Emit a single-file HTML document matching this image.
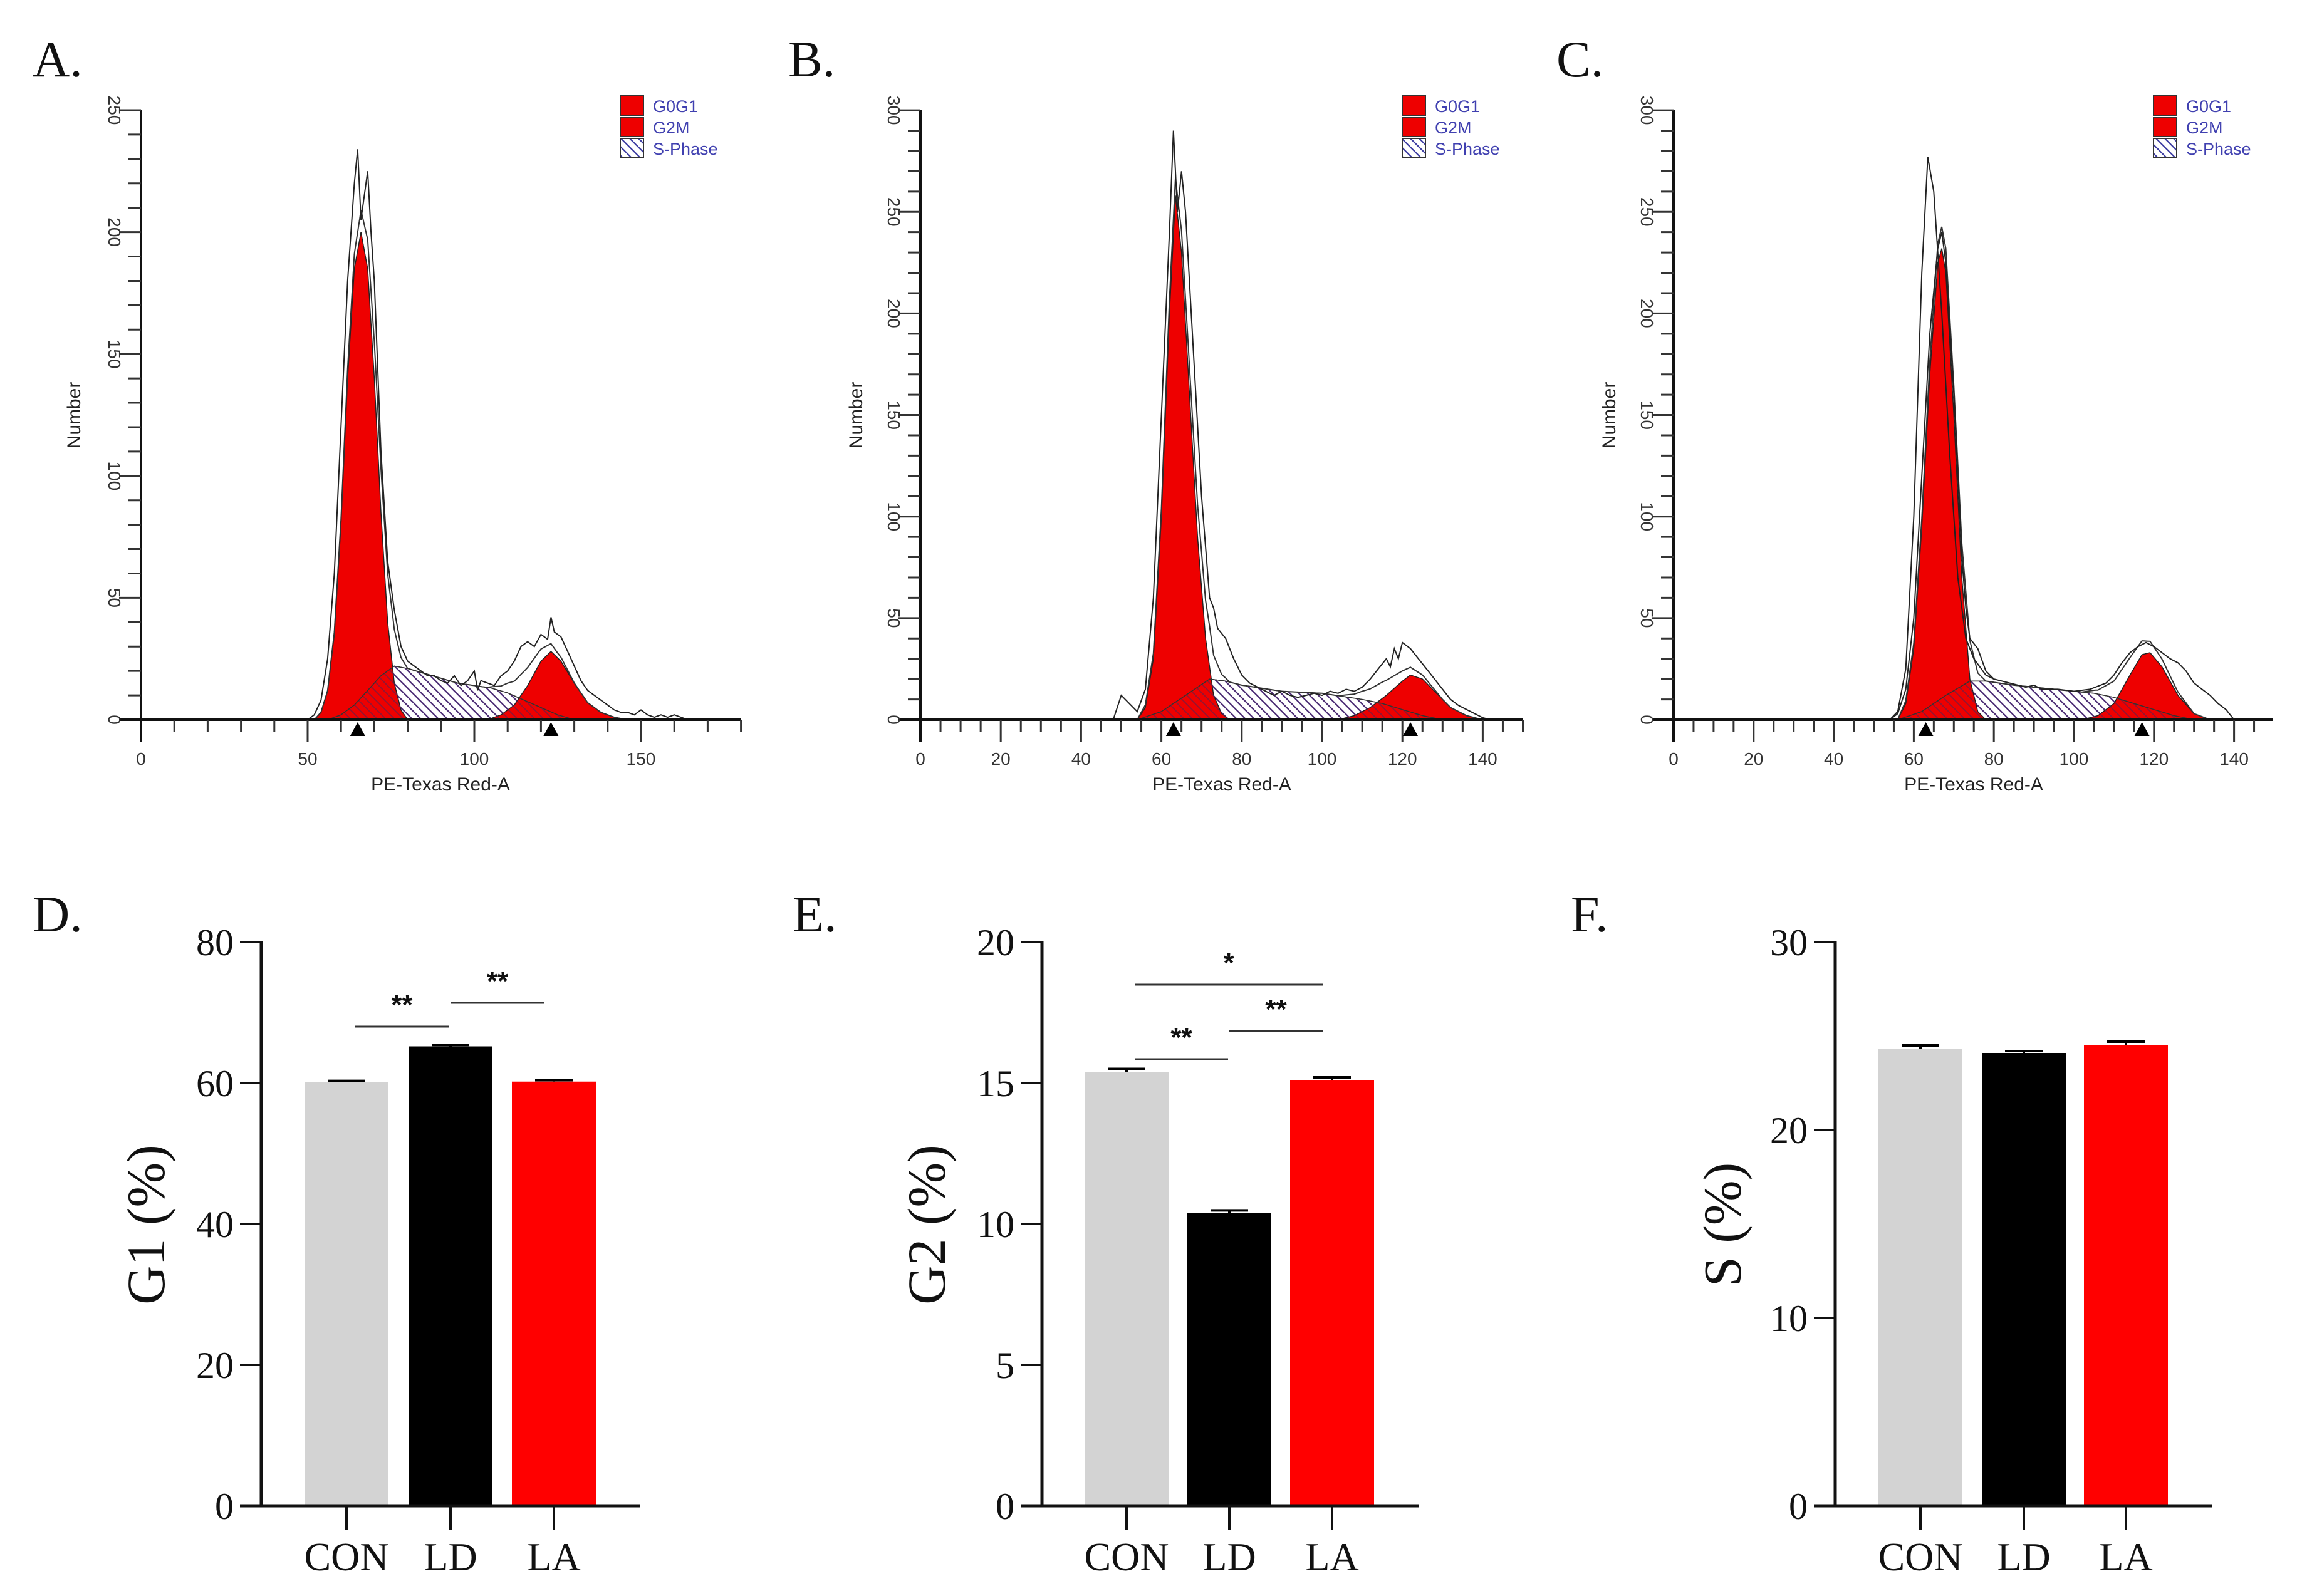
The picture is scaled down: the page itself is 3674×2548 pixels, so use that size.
<!DOCTYPE html>
<html><head><meta charset="utf-8"><style>
html,body{margin:0;padding:0;background:#fff;}
svg{display:block;}
</style></head><body>
<svg id="fig" xmlns="http://www.w3.org/2000/svg" width="3674" height="2548" viewBox="0 0 3674 2548">
<defs>
<pattern id="hatch" patternUnits="userSpaceOnUse" width="14" height="14">
<rect width="14" height="14" fill="#ffffff"/>
<path d="M-2,-2 L16,16 M-9,5 L9,23 M5,-9 L23,9" stroke="#3a3aa0" stroke-width="2.2"/>
</pattern>
<pattern id="hatch2" patternUnits="userSpaceOnUse" width="14" height="14">
<path d="M-2,-2 L16,16 M-9,5 L9,23 M5,-9 L23,9" stroke="#5a2050" stroke-width="2" opacity="0.6"/>
</pattern>
</defs>
<g id="root"></g>
</svg>
<script>
// ===== Histogram data (x channel, count) =====
const aRaw = [[50,0],[52,2],[54,8],[56,25],[58,60],[60,120],[62,180],[64,220],[65,234],[66,205],[67,215],[68,225],[69,200],[70,180],[72,110],[74,65],[76,45],[78,30],[80,24],[82,22],[84,20],[86,18],[88,18],[90,16],[92,15],[94,18],[96,14],[98,16],[100,20],[101,12],[102,16],[104,15],[106,14],[108,18],[110,20],[112,24],[114,30],[116,32],[118,30],[120,35],[122,33],[123,42],[124,36],[126,34],[128,28],[130,22],[132,16],[134,12],[136,10],[138,8],[140,6],[142,4],[144,3],[146,3],[148,2],[150,4],[152,2],[154,1],[156,2],[158,1],[160,2],[162,1],[164,0]];
const aG0G1 = [[52,0],[54,3],[56,12],[58,35],[60,80],[62,140],[64,185],[66,200],[68,185],[70,140],[72,85],[74,40],[76,15],[78,4],[80,0]];
const aS = [[56,0],[60,2],[64,6],[68,12],[72,18],[76,22],[80,21],[85,19],[90,17],[95,15],[100,14],[105,13],[110,11],[115,8],[120,5],[125,2],[130,0]];
const aG2M = [[104,0],[108,2],[112,6],[116,14],[120,24],[123,28],[126,24],[130,15],[134,7],[138,3],[142,1],[146,0]];
const aMarks = [65,123];

const bRaw = [[48,0],[50,12],[52,8],[54,4],[56,15],[58,60],[60,150],[62,240],[63,290],[64,250],[65,270],[66,250],[68,180],[70,110],[72,60],[73,55],[74,45],[76,40],[78,30],[80,22],[82,18],[84,16],[86,14],[88,12],[90,14],[92,12],[94,11],[96,12],[98,13],[100,12],[102,14],[104,13],[106,15],[108,14],[110,16],[112,20],[114,25],[116,30],[117,26],[118,35],[119,30],[120,38],[122,35],[124,30],[126,25],[128,20],[130,15],[132,10],[134,7],[136,5],[138,3],[140,1],[142,0]];
const bG0G1 = [[54,0],[56,6],[58,30],[60,100],[62,200],[63.5,258],[65,230],[67,160],[69,90],[71,40],[73,12],[75,3],[77,0]];
const bS = [[54,0],[60,4],[66,12],[72,20],[76,19],[80,17],[90,14],[100,13],[110,10],[115,8],[120,5],[125,2],[130,0]];
const bG2M = [[104,0],[108,2],[112,6],[116,12],[120,19],[122,22],[125,20],[128,14],[132,6],[136,2],[140,0]];
const bMarks = [63,122];

const cRaw = [[54,0],[56,3],[58,15],[60,50],[62,120],[64,190],[66,232],[67,240],[68,225],[70,160],[72,80],[73,55],[74,40],[76,35],[78,24],[80,20],[84,18],[88,16],[90,17],[92,15],[96,15],[100,14],[104,15],[108,18],[110,22],[112,28],[114,33],[116,36],[118,38],[120,36],[122,33],[124,30],[126,28],[128,24],[130,18],[132,15],[134,12],[136,8],[138,5],[140,0]];
const cRaw2 = [[54,0],[56,4],[58,25],[60,100],[62,220],[63.5,277],[65,260],[67,200],[69,130],[71,70],[73,40],[75,30],[78,22],[80,20]];
const cG0G1 = [[56,0],[58,8],[60,35],[62,95],[64,170],[66,225],[67,232],[68,220],[70,150],[72,70],[74,20],[76,4],[78,0]];
const cS = [[56,0],[62,4],[68,12],[74,19],[78,19],[85,17],[95,15],[105,13],[110,11],[115,8],[120,5],[125,2],[130,0]];
const cG2M = [[102,0],[106,2],[110,8],[114,22],[117,32],[119,33],[122,26],[126,12],[130,3],[134,0]];
const cMarks = [63,117];

const histXTicksA = [0,50,100,150];
const histXTicksBC = [0,20,40,60,80,100,120,140];
const histYTicksA = [0,50,100,150,200,250];
const histYTicksBC = [0,50,100,150,200,250,300];

// ===== Bar chart data =====
const groups = ["CON","LD","LA"];
const g1Values = [60.1,65.2,60.2];
const g1Errors = [0.2,0.2,0.2];
const g2Values = [15.4,10.4,15.1];
const g2Errors = [0.1,0.08,0.1];
const sValues = [24.3,24.1,24.5];
const sErrors = [0.2,0.1,0.2];
const g1Ticks = [0,20,40,60,80];
const g2Ticks = [0,5,10,15,20];
const sTicks = [0,10,20,30];

const NS = "http://www.w3.org/2000/svg";
const root = document.getElementById("root");
function mk(tag, attrs, parent, text){
  const e = document.createElementNS(NS, tag);
  for (const k in attrs) e.setAttribute(k, attrs[k]);
  if (text !== undefined) e.textContent = text;
  (parent||root).appendChild(e);
  return e;
}
function interp(arr, x){
  if (x <= arr[0][0] || x >= arr[arr.length-1][0]) return 0;
  for (let i=1;i<arr.length;i++){
    if (x <= arr[i][0]){
      const t=(x-arr[i-1][0])/(arr[i][0]-arr[i-1][0]);
      return arr[i-1][1]+t*(arr[i][1]-arr[i-1][1]);
    }
  }
  return 0;
}

function histPanel(cfg){
  const g = mk("g", {});
  
  
  const X = v => cfg.x0 + v*cfg.xpu;
  const Y = v => cfg.y0 - v*cfg.ypu;
  const area = (arr) => { let d="M"+X(arr[0][0])+","+cfg.y0; arr.forEach(p=>{d+=" L"+X(p[0]).toFixed(1)+","+Y(p[1]).toFixed(1);}); d+=" L"+X(arr[arr.length-1][0])+","+cfg.y0+" Z"; return d; };
  const line = (arr) => { let d=""; arr.forEach((p,i)=>{d+=(i?" L":"M")+X(p[0]).toFixed(1)+","+Y(p[1]).toFixed(1);}); return d; };
  // S-phase hatched
  const s = mk("path", {d:area(cfg.S), fill:"url(#hatch)", stroke:"#333", "stroke-width":"1.5"}, g);
  
  
  const g2 = mk("path", {d:area(cfg.G2M), fill:"#ee0000", stroke:"#222", "stroke-width":"1.5"}, g);
  
  
  const g1 = mk("path", {d:area(cfg.G0G1), fill:"#ee0000", stroke:"#222", "stroke-width":"1.5"}, g);
  
  
  const so = mk("path", {d:area(cfg.S), fill:"url(#hatch2)", stroke:"#333", "stroke-width":"1.5"}, g);
  
  
  // envelope
  const env=[];
  const lo=cfg.G0G1[0][0], hi=cfg.G2M[cfg.G2M.length-1][0];
  for (let x=lo; x<=hi; x+=0.5){ env.push([x, interp(cfg.G0G1,x)+interp(cfg.S,x)+interp(cfg.G2M,x)]); }
  const ev = mk("path", {d:line(env), fill:"none", stroke:"#333", "stroke-width":"2"}, g);
  
  
  cfg.raws.forEach(r=>{
    const rl = mk("path", {d:line(r), fill:"none", stroke:"#222", "stroke-width":"2"}, g);
    
    
  });
  // axes
  const xa = mk("line", {x1:cfg.x0-35, y1:cfg.y0, x2:cfg.xEnd, y2:cfg.y0, stroke:"#111", "stroke-width":"4"}, g);
  
  
  const ya = mk("line", {x1:cfg.x0, y1:cfg.yTopPx, x2:cfg.x0, y2:cfg.y0+35, stroke:"#111", "stroke-width":"4"}, g);
  
  
  for (let v=cfg.xMinor; X(v)<=cfg.xEnd+1; v+=cfg.xMinor){
    const major = cfg.xTicks.includes(v);
    mk("line", {x1:X(v), y1:cfg.y0, x2:X(v), y2:cfg.y0+(major?35:20), stroke:"#333", "stroke-width":"3"}, g);
  }
  cfg.xTicks.forEach(v=>{
    const t = mk("text", {x:X(v), y:cfg.y0+72, "text-anchor":"middle", "font-family":"Liberation Sans, sans-serif", "font-size":"28", fill:"#333"}, g, String(v));
    
    
  });
  for (let v=10; v<=cfg.yMax; v+=10){
    const major = cfg.yTicks.includes(v);
    mk("line", {x1:cfg.x0-(major?35:20), y1:Y(v), x2:cfg.x0, y2:Y(v), stroke:"#333", "stroke-width":"3"}, g);
  }
  cfg.yTicks.forEach(v=>{
    const t = mk("text", {x:0, y:0, transform:"translate("+(cfg.x0-52)+","+Y(v)+") rotate(90)", "text-anchor":"middle", "font-family":"Liberation Sans, sans-serif", "font-size":"28", fill:"#333"}, g, String(v));
    
    
  });
  const yt = mk("text", {x:0, y:0, transform:"translate("+cfg.yTitleX+",663) rotate(-90)", "text-anchor":"middle", "font-family":"Liberation Sans, sans-serif", "font-size":"30", fill:"#222"}, g, "Number");
  
  
  const xt = mk("text", {x:cfg.xTitleX, y:1262, "text-anchor":"middle", "font-family":"Liberation Sans, sans-serif", "font-size":"30", fill:"#222"}, g, "PE-Texas Red-A");
  
  
  cfg.marks.forEach(m=>{
    const tri = mk("path", {d:"M"+(X(m)-12)+","+(cfg.y0+26)+" L"+(X(m)+12)+","+(cfg.y0+26)+" L"+X(m)+","+(cfg.y0+4)+" Z", fill:"#000"}, g);
    
    
  });
  // legend
  const lg = mk("g", {}, g);
  
  
  const items = [["G0G1","#ee0000"],["G2M","#ee0000"],["S-Phase","url(#hatch)"]];
  items.forEach((it,i)=>{
    const yy = 153 + i*34;
    const r = mk("rect", {x:cfg.legX, y:yy, width:37, height:31, fill:it[1], stroke:"#333", "stroke-width":"2"}, lg);
    
    
    const t = mk("text", {x:cfg.legX+52, y:yy+26, "font-family":"Liberation Sans, sans-serif", "font-size":"27", fill:"#4040b0"}, lg, it[0]);
    
    
  });
}

histPanel({name:"histogram-a", x0:225, xpu:5.32, y0:1149, ypu:3.892, yTopPx:176, yMax:250, xEnd:1183, xMinor:10, xTicks:histXTicksA, yTicks:histYTicksA, S:aS, G0G1:aG0G1, G2M:aG2M, raws:[aRaw], marks:aMarks, legX:990, yTitleX:128, xTitleX:703});
histPanel({name:"histogram-b", x0:1469, xpu:6.41, y0:1149, ypu:3.243, yTopPx:176, yMax:300, xEnd:2430, xMinor:5, xTicks:histXTicksBC, yTicks:histYTicksBC, S:bS, G0G1:bG0G1, G2M:bG2M, raws:[bRaw], marks:bMarks, legX:2238, yTitleX:1376, xTitleX:1950});
histPanel({name:"histogram-c", x0:2671, xpu:6.39, y0:1149, ypu:3.243, yTopPx:176, yMax:300, xEnd:3628, xMinor:5, xTicks:histXTicksBC, yTicks:histYTicksBC, S:cS, G0G1:cG0G1, G2M:cG2M, raws:[cRaw,cRaw2], marks:cMarks, legX:3437, yTitleX:2578, xTitleX:3150});

function barPanel(cfg){
  const g = mk("g", {});
  
  
  const y0=2404, yTop=1504;
  const Y = v => y0 - v/cfg.max*(y0-yTop);
  const colors=["#d3d3d3","#000000","#ff0000"];
  cfg.values.forEach((v,i)=>{
    const cx = cfg.centers[i];
    const b = mk("rect", {x:cx-67, y:Y(v), width:134, height:y0-Y(v), fill:colors[i]}, g);
    
    
    const ye = Y(v+cfg.errors[i]);
    const eb = mk("path", {d:"M"+cx+","+Y(v)+" L"+cx+","+ye+" M"+(cx-30)+","+ye+" L"+(cx+30)+","+ye, stroke:"#000", "stroke-width":"4", fill:"none"}, g);
    
    
    mk("line", {x1:cx, y1:y0, x2:cx, y2:y0+38, stroke:"#111", "stroke-width":"4"}, g);
    const t = mk("text", {x:cx, y:2507, "text-anchor":"middle", "font-family":"Liberation Serif, serif", "font-size":"64", fill:"#111"}, g, groups[i]);
    
    
  });
  const ya = mk("line", {x1:cfg.ax, y1:yTop-2, x2:cfg.ax, y2:y0+2, stroke:"#111", "stroke-width":"5"}, g);
  
  
  const xa = mk("line", {x1:cfg.ax-34, y1:y0, x2:cfg.xEnd, y2:y0, stroke:"#111", "stroke-width":"5"}, g);
  
  
  cfg.ticks.forEach(v=>{
    mk("line", {x1:cfg.ax-34, y1:Y(v), x2:cfg.ax, y2:Y(v), stroke:"#111", "stroke-width":"4"}, g);
    const t = mk("text", {x:cfg.ax-44, y:Y(v)+21, "text-anchor":"end", "font-family":"Liberation Serif, serif", "font-size":"60", fill:"#111"}, g, String(v));
    
    
  });
  const yt = mk("text", {x:0, y:0, transform:"translate("+cfg.titleX+",1955) rotate(-90)", "text-anchor":"middle", "font-family":"Liberation Serif, serif", "font-size":"86", fill:"#111"}, g, cfg.title);
  
  
  cfg.sig.forEach(s=>{
    const l = mk("line", {x1:s[0], y1:s[2], x2:s[1], y2:s[2], stroke:"#333", "stroke-width":"3"}, g);
    
    
    const t = mk("text", {x:(s[0]+s[1])/2, y:s[2]-20, "text-anchor":"middle", "font-family":"Liberation Sans, sans-serif", "font-weight":"bold", "font-size":"44", fill:"#111"}, g, s[3]);
    
    
  });
}
barPanel({name:"bar-chart-g1", values:g1Values, errors:g1Errors, max:80, ticks:g1Ticks, centers:[553,719,884], ax:417, xEnd:1022, title:"G1 (%)", titleX:262,
  sig:[[567,716,1639,"**"],[719,869,1601,"**"]]});
barPanel({name:"bar-chart-g2", values:g2Values, errors:g2Errors, max:20, ticks:g2Ticks, centers:[1798,1962,2126], ax:1663, xEnd:2264, title:"G2 (%)", titleX:1508,
  sig:[[1811,2111,1572,"*"],[1811,1960,1691,"**"],[1962,2111,1646,"**"]]});
barPanel({name:"bar-chart-s", values:sValues, errors:sErrors, max:30, ticks:sTicks, centers:[3065,3230,3393], ax:2929, xEnd:3530, title:"S (%)", titleX:2778, sig:[]});

// panel letters
[["A.",52,122],["B.",1258,122],["C.",2484,122],["D.",52,1487],["E.",1265,1487],["F.",2507,1487]].forEach(p=>{
  const t = mk("text", {x:p[1], y:p[2], "font-family":"Liberation Serif, serif", "font-size":"82", fill:"#111"}, root, p[0]);
  
  
});
</script>
</body></html>
